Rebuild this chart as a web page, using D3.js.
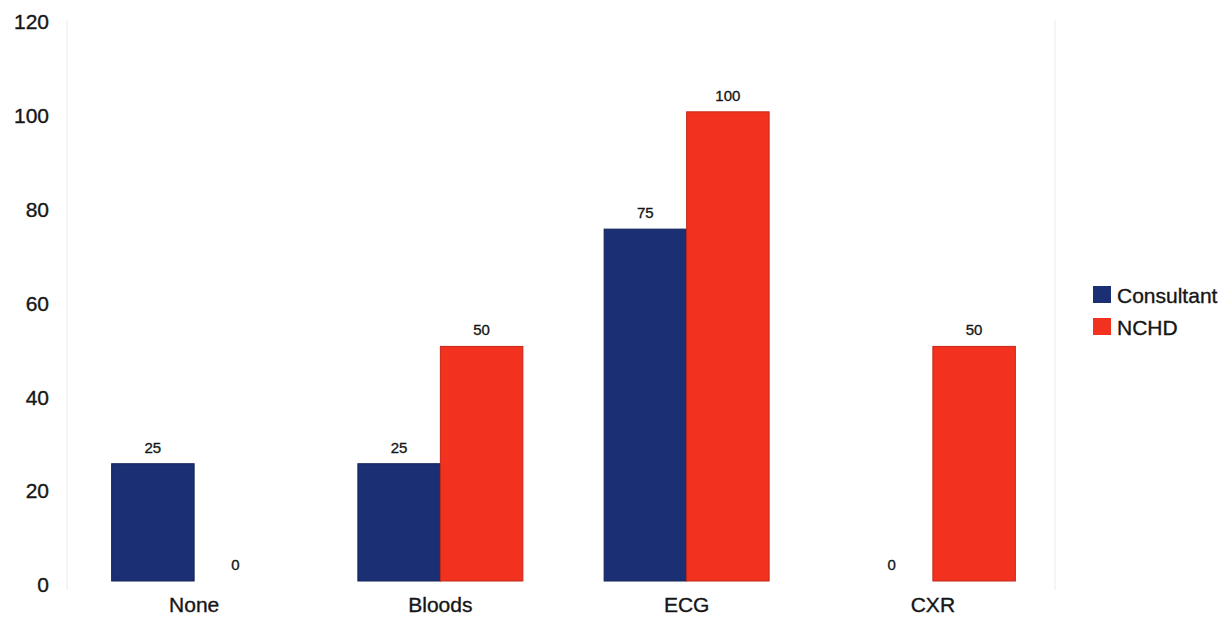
<!DOCTYPE html>
<html>
<head>
<meta charset="utf-8">
<script src="https://cdn.jsdelivr.net/npm/d3@7"></script>
<style>
  html, body { margin: 0; padding: 0; background: #ffffff; }
  svg { display: block; font-family: "Liberation Sans", Arial, sans-serif; }
  svg text { stroke: #161616; stroke-width: 0.35px; }
</style>
</head>
<body>
<svg id="chart" width="1226" height="623"></svg>
<script>
// Categories, series and tick labels
const categories = ["None", "Bloods", "ECG", "CXR"];
const seriesNames = ["Consultant", "NCHD"];
const consultant = [25, 25, 75, 0];
const nchd = [0, 50, 100, 50];
const yTicks = [0, 20, 40, 60, 80, 100, 120];
const seriesColors = ["#1b2f74", "#f2321f"];
const seriesStroke = ["#14235a", "#c42818"];

const rows = categories.map((c, i) => ({ cat: c, values: [consultant[i], nchd[i]] }));

const svg = d3.select("#chart");

const x = d3.scaleBand()
  .domain(categories)
  .range([71, 1056])
  .paddingInner(0.33)
  .paddingOuter(0.165);

const xs = d3.scaleBand()
  .domain(seriesNames)
  .range([0, x.bandwidth()]);

const y = d3.scaleLinear()
  .domain([0, 120])
  .range([581, 18]);

// faint plot-area edges
svg.append("g").selectAll("line")
  .data([67, 1055])
  .join("line")
  .attr("x1", d => d).attr("x2", d => d)
  .attr("y1", 20).attr("y2", 590)
  .attr("stroke", "#f3f5f8").attr("stroke-width", 2);

// Y axis (labels only)
const yAxis = d3.axisLeft(y).tickValues(yTicks).tickSize(0).tickPadding(0);
const yg = svg.append("g")
  .attr("transform", "translate(49,4)")
  .call(yAxis);
yg.select(".domain").remove();
yg.selectAll("text")
  .attr("font-size", 21)
  .attr("fill", "#161616")
  .attr("font-family", "Liberation Sans, Arial, sans-serif");

// X axis (labels only)
const xAxis = d3.axisBottom(x).tickSize(0).tickPadding(0);
const xg = svg.append("g")
  .attr("transform", "translate(0,597)")
  .call(xAxis);
xg.select(".domain").remove();
xg.selectAll("text")
  .attr("font-size", 21)
  .attr("fill", "#161616")
  .attr("font-family", "Liberation Sans, Arial, sans-serif");

// Bars
const groups = svg.append("g").selectAll("g")
  .data(rows)
  .join("g")
  .attr("transform", d => `translate(${x(d.cat)},0)`);

groups.selectAll("rect")
  .data(d => d.values.map((v, i) => ({ v, i })))
  .join("rect")
  .attr("x", d => xs(seriesNames[d.i]))
  .attr("width", xs.bandwidth())
  .attr("y", d => y(d.v))
  .attr("height", d => y(0) - y(d.v))
  .attr("fill", d => seriesColors[d.i])
  .attr("stroke", d => d.v > 0 ? seriesStroke[d.i] : "none")
  .attr("stroke-width", 1);

// Value labels
groups.selectAll("text.val")
  .data(d => d.values.map((v, i) => ({ v, i })))
  .join("text")
  .attr("class", "val")
  .attr("x", d => xs(seriesNames[d.i]) + xs.bandwidth() / 2)
  .attr("y", d => y(d.v) - 11)
  .attr("text-anchor", "middle")
  .attr("font-size", 15)
  .attr("fill", "#161616")
  .text(d => d.v);

// Legend
const legend = svg.append("g").attr("transform", "translate(1093,286)");
const li = legend.selectAll("g")
  .data(seriesNames)
  .join("g")
  .attr("transform", (d, i) => `translate(0,${i * 32})`);
li.append("rect")
  .attr("width", 18).attr("height", 17)
  .attr("fill", (d, i) => seriesColors[i]);
li.append("text")
  .attr("x", 24).attr("y", 17)
  .attr("font-size", 21)
  .attr("fill", "#161616")
  .text(d => d);
</script>
</body>
</html>
